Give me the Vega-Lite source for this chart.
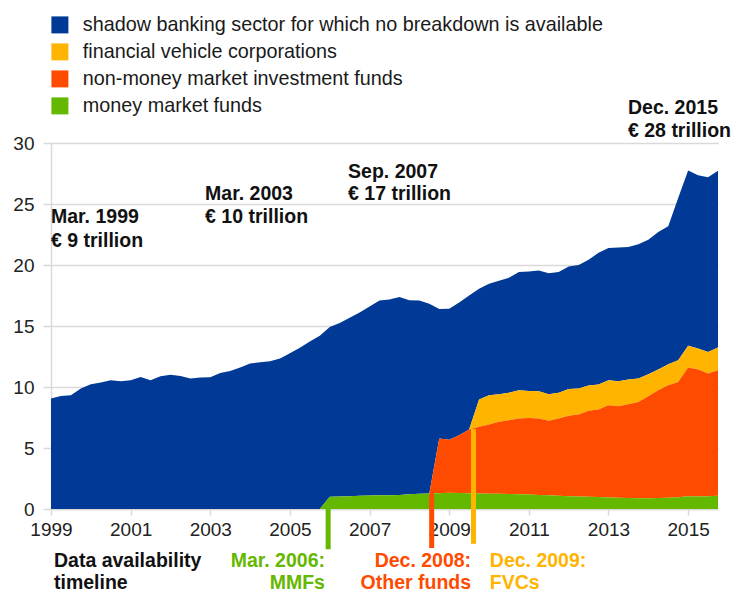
{
  "$schema": "https://vega.github.io/schema/vega-lite/v6.json",
  "width": 667,
  "height": 366,
  "autosize": "none",
  "padding": {"left": 51, "top": 143, "right": 13, "bottom": 85},
  "background": "white",
  "config": {"font": "Liberation Sans", "view": {"stroke": null}},
  "datasets": {
    "sb": [
      {"t": 1999, "sb": 9.05, "fvc": 0, "nmmf": 0, "mmf": 0},
      {"t": 1999.25, "sb": 9.27, "fvc": 0, "nmmf": 0, "mmf": 0},
      {"t": 1999.5, "sb": 9.33, "fvc": 0, "nmmf": 0, "mmf": 0},
      {"t": 1999.75, "sb": 9.87, "fvc": 0, "nmmf": 0, "mmf": 0},
      {"t": 2000, "sb": 10.23, "fvc": 0, "nmmf": 0, "mmf": 0},
      {"t": 2000.25, "sb": 10.36, "fvc": 0, "nmmf": 0, "mmf": 0},
      {"t": 2000.5, "sb": 10.55, "fvc": 0, "nmmf": 0, "mmf": 0},
      {"t": 2000.75, "sb": 10.47, "fvc": 0, "nmmf": 0, "mmf": 0},
      {"t": 2001, "sb": 10.55, "fvc": 0, "nmmf": 0, "mmf": 0},
      {"t": 2001.25, "sb": 10.82, "fvc": 0, "nmmf": 0, "mmf": 0},
      {"t": 2001.5, "sb": 10.55, "fvc": 0, "nmmf": 0, "mmf": 0},
      {"t": 2001.75, "sb": 10.88, "fvc": 0, "nmmf": 0, "mmf": 0},
      {"t": 2002, "sb": 11.0, "fvc": 0, "nmmf": 0, "mmf": 0},
      {"t": 2002.25, "sb": 10.9, "fvc": 0, "nmmf": 0, "mmf": 0},
      {"t": 2002.5, "sb": 10.69, "fvc": 0, "nmmf": 0, "mmf": 0},
      {"t": 2002.75, "sb": 10.77, "fvc": 0, "nmmf": 0, "mmf": 0},
      {"t": 2003, "sb": 10.8, "fvc": 0, "nmmf": 0, "mmf": 0},
      {"t": 2003.25, "sb": 11.15, "fvc": 0, "nmmf": 0, "mmf": 0},
      {"t": 2003.5, "sb": 11.31, "fvc": 0, "nmmf": 0, "mmf": 0},
      {"t": 2003.75, "sb": 11.59, "fvc": 0, "nmmf": 0, "mmf": 0},
      {"t": 2004, "sb": 11.92, "fvc": 0, "nmmf": 0, "mmf": 0},
      {"t": 2004.25, "sb": 12.03, "fvc": 0, "nmmf": 0, "mmf": 0},
      {"t": 2004.5, "sb": 12.11, "fvc": 0, "nmmf": 0, "mmf": 0},
      {"t": 2004.75, "sb": 12.33, "fvc": 0, "nmmf": 0, "mmf": 0},
      {"t": 2005, "sb": 12.76, "fvc": 0, "nmmf": 0, "mmf": 0},
      {"t": 2005.25, "sb": 13.22, "fvc": 0, "nmmf": 0, "mmf": 0},
      {"t": 2005.5, "sb": 13.72, "fvc": 0, "nmmf": 0, "mmf": 0},
      {"t": 2005.75, "sb": 14.2, "fvc": 0, "nmmf": 0, "mmf": 0},
      {"t": 2006, "sb": 13.92, "fvc": 0, "nmmf": 0, "mmf": 1.0},
      {"t": 2006.25, "sb": 14.23, "fvc": 0, "nmmf": 0, "mmf": 1.02},
      {"t": 2006.5, "sb": 14.63, "fvc": 0, "nmmf": 0, "mmf": 1.05},
      {"t": 2006.75, "sb": 15.02, "fvc": 0, "nmmf": 0, "mmf": 1.08},
      {"t": 2007, "sb": 15.5, "fvc": 0, "nmmf": 0, "mmf": 1.1},
      {"t": 2007.25, "sb": 15.98, "fvc": 0, "nmmf": 0, "mmf": 1.12},
      {"t": 2007.5, "sb": 16.05, "fvc": 0, "nmmf": 0, "mmf": 1.13},
      {"t": 2007.75, "sb": 16.22, "fvc": 0, "nmmf": 0, "mmf": 1.15},
      {"t": 2008, "sb": 15.92, "fvc": 0, "nmmf": 0, "mmf": 1.2},
      {"t": 2008.25, "sb": 15.85, "fvc": 0, "nmmf": 0, "mmf": 1.25},
      {"t": 2008.5, "sb": 15.56, "fvc": 0, "nmmf": 0, "mmf": 1.27},
      {"t": 2008.75, "sb": 10.62, "fvc": 0, "nmmf": 4.48, "mmf": 1.3},
      {"t": 2009, "sb": 10.75, "fvc": 0, "nmmf": 4.34, "mmf": 1.33},
      {"t": 2009.25, "sb": 10.88, "fvc": 0, "nmmf": 4.73, "mmf": 1.32},
      {"t": 2009.5, "sb": 10.98, "fvc": 0, "nmmf": 5.22, "mmf": 1.3},
      {"t": 2009.75, "sb": 9.09, "fvc": 2.23, "nmmf": 5.46, "mmf": 1.28},
      {"t": 2010, "sb": 9.14, "fvc": 2.40, "nmmf": 5.67, "mmf": 1.26},
      {"t": 2010.25, "sb": 9.29, "fvc": 2.26, "nmmf": 5.91, "mmf": 1.24},
      {"t": 2010.5, "sb": 9.44, "fvc": 2.24, "nmmf": 6.06, "mmf": 1.22},
      {"t": 2010.75, "sb": 9.68, "fvc": 2.32, "nmmf": 6.22, "mmf": 1.2},
      {"t": 2011, "sb": 9.78, "fvc": 2.22, "nmmf": 6.28, "mmf": 1.18},
      {"t": 2011.25, "sb": 9.9, "fvc": 2.23, "nmmf": 6.27, "mmf": 1.15},
      {"t": 2011.5, "sb": 9.92, "fvc": 2.18, "nmmf": 6.11, "mmf": 1.12},
      {"t": 2011.75, "sb": 9.9, "fvc": 2.10, "nmmf": 6.34, "mmf": 1.08},
      {"t": 2012, "sb": 10.04, "fvc": 2.20, "nmmf": 6.59, "mmf": 1.05},
      {"t": 2012.25, "sb": 10.13, "fvc": 2.12, "nmmf": 6.72, "mmf": 1.03},
      {"t": 2012.5, "sb": 10.31, "fvc": 2.07, "nmmf": 7.05, "mmf": 1.0},
      {"t": 2012.75, "sb": 10.8, "fvc": 2.04, "nmmf": 7.18, "mmf": 0.98},
      {"t": 2013, "sb": 10.84, "fvc": 2.05, "nmmf": 7.56, "mmf": 0.95},
      {"t": 2013.25, "sb": 10.96, "fvc": 2.04, "nmmf": 7.51, "mmf": 0.92},
      {"t": 2013.5, "sb": 10.87, "fvc": 2.02, "nmmf": 7.69, "mmf": 0.9},
      {"t": 2013.75, "sb": 11.01, "fvc": 1.91, "nmmf": 7.9, "mmf": 0.88},
      {"t": 2014, "sb": 11.02, "fvc": 1.8, "nmmf": 8.37, "mmf": 0.88},
      {"t": 2014.25, "sb": 11.27, "fvc": 1.69, "nmmf": 8.84, "mmf": 0.9},
      {"t": 2014.5, "sb": 11.31, "fvc": 1.71, "nmmf": 9.22, "mmf": 0.93},
      {"t": 2014.75, "sb": 13.31, "fvc": 1.77, "nmmf": 9.45, "mmf": 0.97},
      {"t": 2015, "sb": 14.35, "fvc": 1.8, "nmmf": 10.54, "mmf": 1.05},
      {"t": 2015.25, "sb": 14.2, "fvc": 1.72, "nmmf": 10.41, "mmf": 1.02},
      {"t": 2015.5, "sb": 14.33, "fvc": 1.77, "nmmf": 10.05, "mmf": 1.05},
      {"t": 2015.75, "sb": 14.49, "fvc": 1.86, "nmmf": 10.29, "mmf": 1.08}
    ]
  },
  "layer": [
    {
      "data": {"name": "sb"},
      "transform": [
        {"fold": ["sb", "fvc", "nmmf", "mmf"], "as": ["series", "value"]},
        {"calculate": "indexof(['mmf','nmmf','fvc','sb'], datum.series)", "as": "rank"}
      ],
      "mark": {"type": "area", "interpolate": "linear"},
      "encoding": {
        "x": {
          "field": "t", "type": "quantitative",
          "scale": {"domain": [1999, 2015.75], "nice": false, "zero": false},
          "axis": {
            "title": null, "values": [1999, 2001, 2003, 2005, 2007, 2009, 2011, 2013, 2015],
            "format": "d", "grid": false, "domainColor": "#d9d9d9", "domainWidth": 1.5,
            "tickColor": "#d9d9d9", "tickWidth": 1.5, "tickSize": 6,
            "labelFontSize": 19, "labelColor": "#222222", "labelPadding": 5,
            "labelFlush": false, "labelOverlap": false
          }
        },
        "y": {
          "field": "value", "type": "quantitative", "stack": "zero",
          "scale": {"domain": [0, 30], "nice": false},
          "axis": {
            "title": null, "values": [0, 5, 10, 15, 20, 25, 30],
            "grid": true, "gridColor": "#d9d9d9", "gridWidth": 1.5,
            "domainColor": "#d9d9d9", "domainWidth": 1.5,
            "tickColor": "#d9d9d9", "tickWidth": 1.5, "tickSize": 8,
            "labelFontSize": 19, "labelColor": "#222222", "labelPadding": 9
          }
        },
        "color": {
          "field": "series", "type": "nominal",
          "scale": {"domain": ["sb", "fvc", "nmmf", "mmf"], "range": ["#013a96", "#ffb400", "#ff4b00", "#65b800"]},
          "legend": {
            "orient": "none", "legendX": -1, "legendY": -128, "title": null,
            "symbolType": "square", "symbolSize": 289, "symbolStrokeWidth": 0, "symbolOpacity": 1,
            "labelFontSize": 19.8, "labelColor": "#1a1a1a", "labelOffset": 13, "rowPadding": 6,
            "labelLimit": 700,
            "labelExpr": "datum.value == 'sb' ? 'shadow banking sector for which no breakdown is available' : datum.value == 'fvc' ? 'financial vehicle corporations' : datum.value == 'nmmf' ? 'non-money market investment funds' : 'money market funds'"
          }
        },
        "order": {"field": "rank", "type": "quantitative"}
      }
    },
    {
      "data": {"values": [{"t": 2005.96, "v": 0, "v2": -3.3}]},
      "mark": {"type": "rule", "color": "#65b800", "strokeWidth": 5, "clip": false},
      "encoding": {
        "x": {"field": "t", "type": "quantitative", "title": null},
        "y": {"field": "v", "type": "quantitative", "title": null},
        "y2": {"field": "v2"}
      }
    },
    {
      "data": {"values": [{"t": 2008.56, "v": 1.3, "v2": -3.2}]},
      "mark": {"type": "rule", "color": "#ff4b00", "strokeWidth": 5, "clip": false},
      "encoding": {
        "x": {"field": "t", "type": "quantitative", "title": null},
        "y": {"field": "v", "type": "quantitative", "title": null},
        "y2": {"field": "v2"}
      }
    },
    {
      "data": {"values": [{"t": 2009.61, "v": 6.55, "v2": -2.85}]},
      "mark": {"type": "rule", "color": "#ffb400", "strokeWidth": 5, "clip": false},
      "encoding": {
        "x": {"field": "t", "type": "quantitative", "title": null},
        "y": {"field": "v", "type": "quantitative", "title": null},
        "y2": {"field": "v2"}
      }
    },
    {
      "data": {"values": [
        {"t": 1999, "v": 23.95, "label": "Mar. 1999"},
        {"t": 1999, "v": 21.98, "label": "€ 9 trillion"},
        {"t": 2002.87, "v": 25.8, "label": "Mar. 2003"},
        {"t": 2002.87, "v": 23.95, "label": "€ 10 trillion"},
        {"t": 2006.46, "v": 27.6, "label": "Sep. 2007"},
        {"t": 2006.46, "v": 25.8, "label": "€ 17 trillion"},
        {"t": 2013.49, "v": 32.9, "label": "Dec. 2015"},
        {"t": 2013.49, "v": 31.0, "label": "€ 28 trillion"},
        {"t": 1999.075, "v": -4.3, "label": "Data availability"},
        {"t": 1999.075, "v": -6.1, "label": "timeline"}
      ]},
      "mark": {"type": "text", "align": "left", "baseline": "middle", "fontWeight": "bold", "fontSize": 19.5, "color": "#111111"},
      "encoding": {
        "x": {"field": "t", "type": "quantitative", "title": null},
        "y": {"field": "v", "type": "quantitative", "title": null},
        "text": {"field": "label"}
      }
    },
    {
      "data": {"values": [
        {"t": 2005.88, "v": -4.3, "label": "Mar. 2006:"},
        {"t": 2005.88, "v": -6.1, "label": "MMFs"}
      ]},
      "mark": {"type": "text", "align": "right", "baseline": "middle", "fontWeight": "bold", "fontSize": 19.5, "color": "#65b800"},
      "encoding": {
        "x": {"field": "t", "type": "quantitative", "title": null},
        "y": {"field": "v", "type": "quantitative", "title": null},
        "text": {"field": "label"}
      }
    },
    {
      "data": {"values": [
        {"t": 2009.55, "v": -4.3, "label": "Dec. 2008:"},
        {"t": 2009.55, "v": -6.1, "label": "Other funds"}
      ]},
      "mark": {"type": "text", "align": "right", "baseline": "middle", "fontWeight": "bold", "fontSize": 19.5, "color": "#ff4b00"},
      "encoding": {
        "x": {"field": "t", "type": "quantitative", "title": null},
        "y": {"field": "v", "type": "quantitative", "title": null},
        "text": {"field": "label"}
      }
    },
    {
      "data": {"values": [
        {"t": 2010.02, "v": -4.3, "label": "Dec. 2009:"},
        {"t": 2010.02, "v": -6.1, "label": "FVCs"}
      ]},
      "mark": {"type": "text", "align": "left", "baseline": "middle", "fontWeight": "bold", "fontSize": 19.5, "color": "#ffb400"},
      "encoding": {
        "x": {"field": "t", "type": "quantitative", "title": null},
        "y": {"field": "v", "type": "quantitative", "title": null},
        "text": {"field": "label"}
      }
    }
  ]
}
